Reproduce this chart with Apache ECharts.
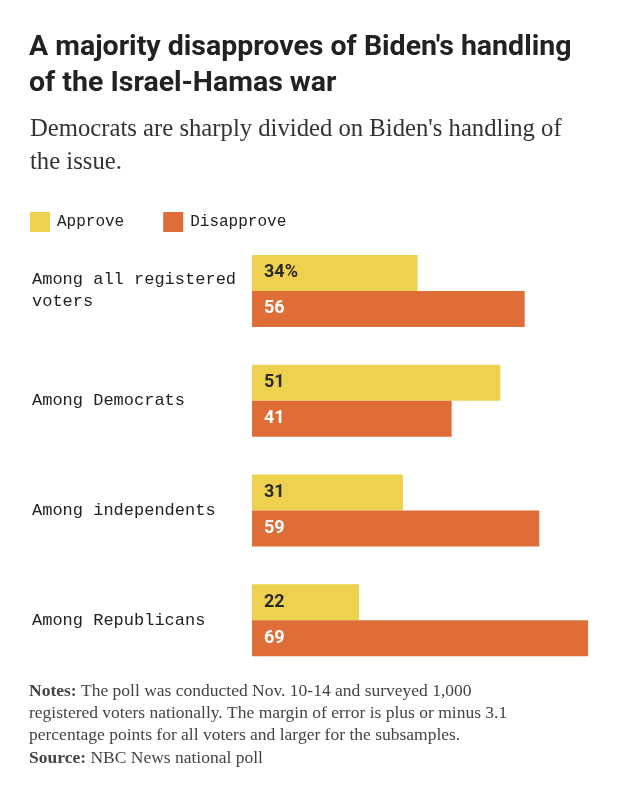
<!DOCTYPE html>
<html><head><meta charset="utf-8">
<script src="https://cdn.jsdelivr.net/npm/echarts@6/dist/echarts.min.js"></script>
<style>html,body{margin:0;padding:0;background:#fff}#c{width:618px;height:800px}</style>
</head><body><div id="c"></div>
<script>
const categories = ["Among all registered voters", "Among Democrats", "Among independents", "Among Republicans"];
const approve = [34, 51, 31, 22];
const disapprove = [56, 41, 59, 69];
const seriesNames = ["Approve", "Disapprove"];

const chart = echarts.init(document.getElementById('c'));
const mono = '"Liberation Mono", monospace';
const serif = '"Liberation Serif", serif';
chart.setOption({
  backgroundColor: '#fff',
  animation: false,
  title: [
    {left: 29, top: 30, padding: 0, text: "A majority disapproves of Biden's handling\nof the Israel-Hamas war",
     textStyle: {fontFamily: 'Roboto, sans-serif', fontWeight: 'bold', fontSize: 28.5, lineHeight: 36, color: '#222'}},
    {left: 30, top: 113, padding: 0, text: "Democrats are sharply divided on Biden's handling of\nthe issue.",
     textStyle: {fontFamily: serif, fontWeight: 'normal', fontSize: 24.7, lineHeight: 33, color: '#333'}},
    {left: 29, top: 680, padding: 0, text: "{b|Notes:} The poll was conducted Nov. 10-14 and surveyed 1,000\nregistered voters nationally. The margin of error is plus or minus 3.1\npercentage points for all voters and larger for the subsamples.",
     textStyle: {fontFamily: serif, fontWeight: 'normal', fontSize: 17.5, lineHeight: 22, color: '#444',
       rich: {b: {fontFamily: serif, fontWeight: 'bold', fontSize: 17.5, color: '#444'}}}},
    {left: 29, top: 747, padding: 0, text: "{b|Source:} NBC News national poll",
     textStyle: {fontFamily: serif, fontWeight: 'normal', fontSize: 17.5, lineHeight: 22, color: '#444',
       rich: {b: {fontFamily: serif, fontWeight: 'bold', fontSize: 17.5, color: '#444'}}}}
  ],
  legend: {
    left: 30, top: 212, padding: 0, itemWidth: 20, itemHeight: 20, itemGap: 39, icon: 'rect',
    data: seriesNames,
    textStyle: {fontFamily: mono, fontSize: 16, color: '#222', padding: [0, 0, 0, 2]}
  },
  grid: {left: 252, width: 336, top: 236, height: 439},
  xAxis: {type: 'value', min: 0, max: 69, show: false},
  yAxis: {type: 'category', data: categories, inverse: true,
    axisLine: {show: false}, axisTick: {show: false},
    axisLabel: {align: 'left', margin: 220, fontFamily: mono, fontSize: 17, color: '#222', lineHeight: 22,
      width: 215, overflow: 'break'}},
  series: [
    {name: seriesNames[0], type: 'bar', data: approve, barWidth: 36, barGap: '0%',
     itemStyle: {color: '#eed24f'},
     label: {show: true, position: 'insideLeft', distance: 12, fontFamily: 'Roboto, sans-serif', fontWeight: 'bold', fontSize: 18, color: '#2b2b2b',
       formatter: p => p.dataIndex === 0 ? p.value + '%' : String(p.value)}},
    {name: seriesNames[1], type: 'bar', data: disapprove, barWidth: 36, barGap: '0%',
     itemStyle: {color: '#df6d38'},
     label: {show: true, position: 'insideLeft', distance: 12, fontFamily: 'Roboto, sans-serif', fontWeight: 'bold', fontSize: 18, color: '#fff'}}
  ]
});
</script></body></html>
